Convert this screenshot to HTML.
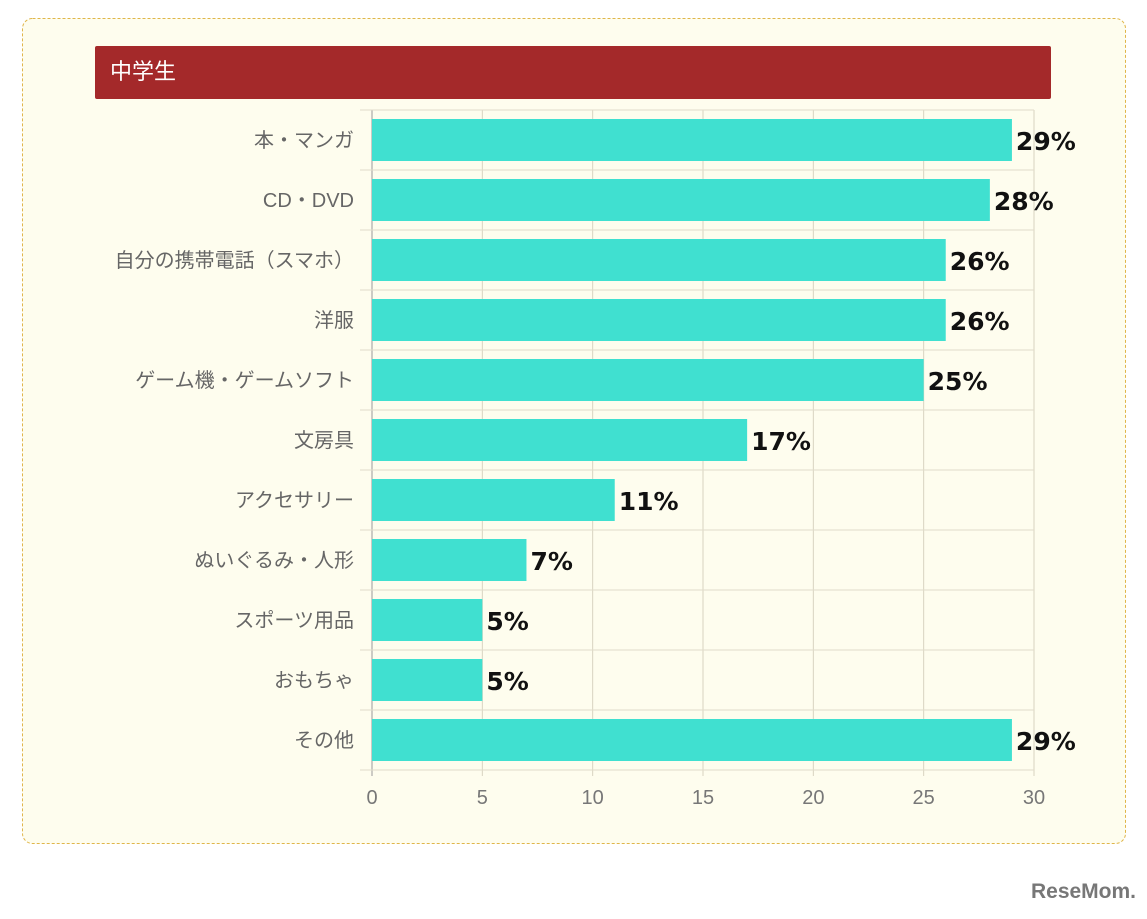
<!DOCTYPE html>
<html><head><meta charset="utf-8"><style>
body{margin:0;background:#fff;width:1147px;height:914px;overflow:hidden;font-family:"Liberation Sans","Noto Sans CJK JP",sans-serif}
</style></head><body>
<svg width="1147" height="914" xmlns="http://www.w3.org/2000/svg">
<rect x="22.5" y="18.5" width="1103" height="825" rx="10" fill="#fefdee" stroke="#e0b64a" stroke-dasharray="3,2"/>
<rect x="95" y="46" width="956" height="53" rx="2" fill="#a4292a"/>
<text x="110" y="79" fill="#fff" font-size="22" font-family="'Liberation Sans','Noto Sans CJK JP',sans-serif">中学生</text>
<g id="grid"></g><g id="bars"></g><g id="labels"></g>
<text x="1136" y="898" text-anchor="end" font-size="21" font-weight="bold" fill="#777">ReseMom.</text>
</svg>
<script>
const categories=["本・マンガ","CD・DVD","自分の携帯電話（スマホ）","洋服","ゲーム機・ゲームソフト","文房具","アクセサリー","ぬいぐるみ・人形","スポーツ用品","おもちゃ","その他"];
const values=[29,28,26,26,25,17,11,7,5,5,29];
const ticks=[0,5,10,15,20,25,30];
const NS="http://www.w3.org/2000/svg";
const x0=372,x1=1034,plotTop=110,rowH=60,xmax=30;
const xs=v=>x0+(x1-x0)*v/xmax;
const ys=i=>plotTop+i*rowH;
const g=document.getElementById('grid'),b=document.getElementById('bars'),l=document.getElementById('labels');
function mk(tag,attrs,parent){const e=document.createElementNS(NS,tag);for(const k in attrs)e.setAttribute(k,attrs[k]);parent.appendChild(e);return e;}
ticks.forEach(t=>{
 const ln=mk('line',{x1:xs(t),x2:xs(t),y1:plotTop,y2:ys(categories.length)+6,stroke:t===0?'#999':'#d8d3c0','stroke-width':1},g);
 
 
 const tx=mk('text',{x:xs(t),y:804,'text-anchor':'middle','font-size':20,fill:'#777'},l);
 tx.textContent=t;
 
 
});
for(let i=0;i<=categories.length;i++){
 const ln=mk('line',{x1:x0-12,x2:x1,y1:ys(i),y2:ys(i),stroke:'#e0dccb','stroke-width':1},g);
 
 
}
categories.forEach((c,i)=>{
 const y=ys(i);
 const r=mk('rect',{x:x0,y:y+9,width:xs(values[i])-x0,height:42,fill:'#40e0d0'},b);
 
 
 const t=mk('text',{x:354,y:y+37,'text-anchor':'end','font-size':20,fill:'#666'},l);
 t.textContent=c;
 
 
 const v=mk('text',{x:xs(values[i])+4,y:y+40,'font-size':25,'font-weight':'bold','font-family':'DejaVu Sans, sans-serif',fill:'#111'},l);
 v.textContent=values[i]+'%';
 
 
});
</script>
</body></html>
